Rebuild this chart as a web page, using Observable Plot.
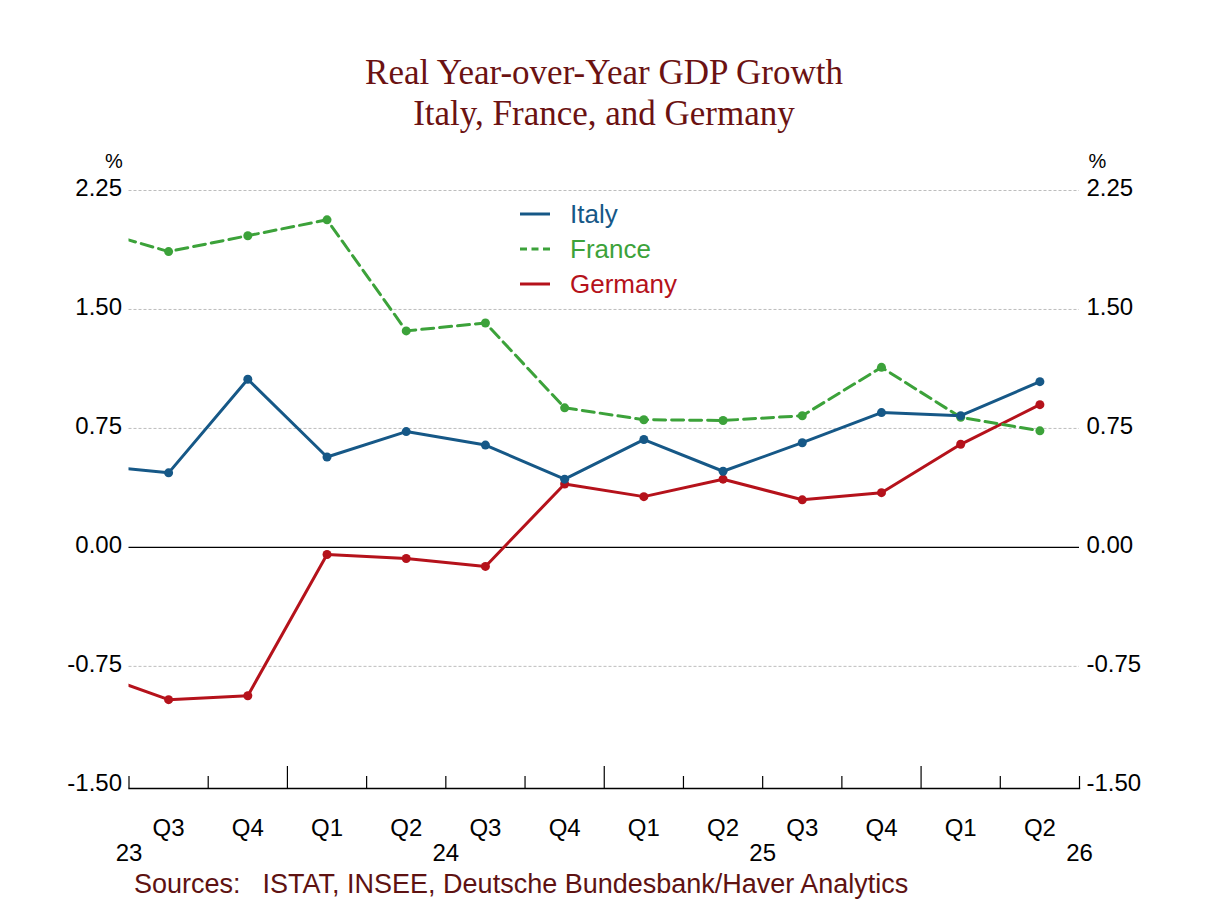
<!DOCTYPE html>
<html>
<head>
<meta charset="utf-8">
<script src="https://cdn.jsdelivr.net/npm/d3@7"></script>
<script src="https://cdn.jsdelivr.net/npm/@observablehq/plot@0.6"></script>
<style>
  body { margin: 0; background: #fff; }
  #wrap { position: relative; width: 1208px; height: 906px; overflow: hidden; font-family: "Liberation Sans", Arial, sans-serif; }
  #title { position: absolute; left: 0; top: 52px; width: 1208px; text-align: center; font-family: "Liberation Serif", "Times New Roman", serif; font-size: 35px; line-height: 41px; color: #6b1212; }
  #chart { position: absolute; left: 0; top: 140px; }
  #legend { position: absolute; left: 520px; top: 0; }
  .lg { position: absolute; left: 0; height: 34px; display: flex; align-items: center; font-size: 26px; line-height: 34px; white-space: nowrap; }
  .lg svg { margin-right: 19px; }
  #source { position: absolute; left: 134px; top: 871px; font-size: 27px; line-height: 26px; color: #5e1212; white-space: nowrap; }
  #source .gap { display: inline-block; width: 22px; }
</style>
</head>
<body>
<div id="wrap">
  <div id="title">Real Year-over-Year GDP Growth<br>Italy, France, and Germany</div>
  <div id="chart"></div>
  <div id="legend"></div>
  <div id="source">Sources:<span class="gap"></span>ISTAT, INSEE, Deutsche Bundesbank/Haver Analytics</div>
</div>
<script>
// ---- data ----
const quarters = ["2023 Q2","2023 Q3","2023 Q4","2024 Q1","2024 Q2","2024 Q3","2024 Q4","2025 Q1","2025 Q2","2025 Q3","2025 Q4","2026 Q1","2026 Q2"];
const italy   = [0.52, 0.47, 1.06, 0.57, 0.73, 0.645, 0.43, 0.68, 0.48, 0.66, 0.85, 0.83, 1.045];
const france  = [2.01, 1.865, 1.965, 2.065, 1.365, 1.415, 0.88, 0.805, 0.80, 0.83, 1.135, 0.82, 0.735];
const germany = [-0.78, -0.96, -0.935, -0.045, -0.07, -0.12, 0.40, 0.32, 0.43, 0.30, 0.345, 0.65, 0.90];
const seriesNames = ["Italy", "France", "Germany"];
const yTicks = [-1.5, -0.75, 0, 0.75, 1.5, 2.25];
const gridTicks = [-0.75, 0.75, 1.5, 2.25];
const yearLabels = ["23", "24", "25", "26"];
const years = [2023, 2024, 2025, 2026];

// ---- styling ----
const colors = { Italy: "#165887", France: "#3ca23a", Germany: "#b5121b" };
const dashes = { Italy: null, France: "12,6", Germany: null };

// quarter -> numeric position (centre of quarter)
const qpos = s => { const [y, q] = s.split(" Q"); return +y + (+q - 1) / 4 + 0.125; };
const values = { Italy: italy, France: france, Germany: germany };
const rows = name => quarters.map((q, i) => ({ country: name, x: qpos(q), value: values[name][i] }));

const xDomain = [years[0] + 0.5, years[years.length - 1] + 0.5];
// quarter boundaries
const boundaries = d3.range(xDomain[0], xDomain[1] + 0.001, 0.25);
const majorTicks = boundaries.filter(b => Math.abs(b - Math.round(b)) < 1e-9 && b > xDomain[0] && b < xDomain[1]);
const minorTicks = boundaries.filter(b => !majorTicks.includes(b));
const qLabels = quarters.slice(1).map(q => ({ x: qpos(q), label: "Q" + q.split(" Q")[1] }));
const yLabels = years.map((y, i) => ({ x: y + 0.5, label: yearLabels[i] }));

const drawOrder = ["Germany", "France", "Italy"];
const FS = 24;

const plot = Plot.plot({
  width: 1208,
  height: 740,
  marginTop: 50,
  marginBottom: 92,
  marginLeft: 128.5,
  marginRight: 129,
  style: { fontFamily: "'Liberation Sans', Arial, sans-serif", fontSize: FS + "px", color: "#000", background: "transparent", overflow: "visible" },
  x: { domain: xDomain, axis: null },
  y: { domain: [-1.52, 2.25], axis: null },
  marks: [
    Plot.gridY(gridTicks, { stroke: "#bdbdbd", strokeOpacity: 1, strokeDasharray: "3,2", strokeWidth: 1 }),
    Plot.ruleY([0], { stroke: "#000", strokeWidth: 1.2 }),
    Plot.frame({ anchor: "bottom", stroke: "#000", strokeWidth: 1.4 }),
    Plot.axisX(minorTicks, { anchor: "bottom", label: null, tickSize: 12, dy: -12, tickFormat: () => "", stroke: "#000", strokeWidth: 1.2 }),
    Plot.axisX(majorTicks, { anchor: "bottom", label: null, tickSize: 22, dy: -22, tickFormat: () => "", stroke: "#000", strokeWidth: 1.2 }),
    Plot.text(qLabels, { x: "x", text: "label", frameAnchor: "bottom", dy: 40, lineAnchor: "middle", fontSize: FS, fill: "#000" }),
    Plot.text(yLabels, { x: "x", text: "label", frameAnchor: "bottom", dy: 65, lineAnchor: "middle", fontSize: FS, fill: "#000" }),
    Plot.axisY(yTicks, { anchor: "left", label: null, tickSize: 0, tickPadding: 7, dy: -2, tickFormat: d => d.toFixed(2), fontSize: FS, fill: "#000" }),
    Plot.axisY(yTicks, { anchor: "right", label: null, tickSize: 0, tickPadding: 7, dy: -2, tickFormat: d => d.toFixed(2), fontSize: FS, fill: "#000" }),
    Plot.text(["%"], { frameAnchor: "top-left", dx: -15, dy: -29, lineAnchor: "middle", textAnchor: "middle", fontSize: 20, fill: "#000" }),
    Plot.text(["%"], { frameAnchor: "top-right", dx: 18, dy: -29, lineAnchor: "middle", textAnchor: "middle", fontSize: 20, fill: "#000" }),
    ...drawOrder.map(n => Plot.line(rows(n), { x: "x", y: "value", stroke: colors[n], strokeWidth: 3, strokeDasharray: dashes[n], clip: true })),
    ...drawOrder.map(n => Plot.dot(rows(n), { x: "x", y: "value", r: 4.5, fill: colors[n], stroke: "none", clip: true }))
  ]
});
document.getElementById("chart").appendChild(plot);

// ---- legend ----
const legendY = [214, 249, 283.5];
const legend = document.getElementById("legend");
seriesNames.forEach((n, i) => {
  const row = document.createElement("div");
  row.className = "lg";
  row.style.top = (legendY[i] - 17) + "px";
  row.style.color = colors[n];
  const dash = n === "France" ? ' stroke-dasharray="7,4.5"' : "";
  row.innerHTML = `<svg width="31" height="34"><line x1="0" x2="30" y1="17" y2="17" stroke="${colors[n]}" stroke-width="3"${dash}/></svg><span>${n}</span>`;
  legend.appendChild(row);
});
</script>
</body>
</html>
